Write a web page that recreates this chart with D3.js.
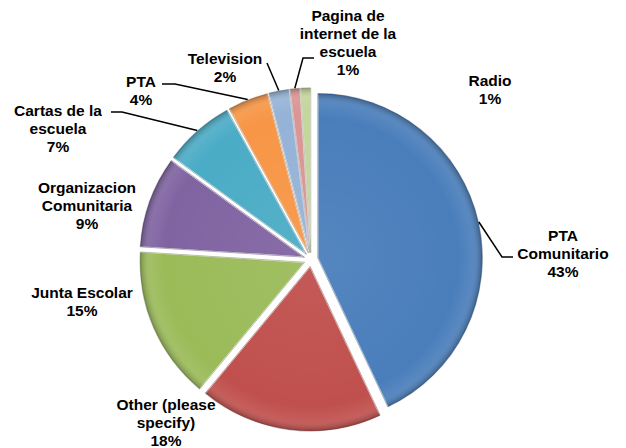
<!DOCTYPE html>
<html>
<head>
<meta charset="utf-8">
<script src="https://cdn.jsdelivr.net/npm/d3@7/dist/d3.min.js"></script>
<style>
  html, body { margin: 0; padding: 0; background: #fff; }
  svg { display: block; }
  text { font-family: "Liberation Sans", Arial, sans-serif; font-weight: bold; font-size: 15.5px; fill: #000; }
</style>
</head>
<body>
<svg id="chart" width="626" height="448"></svg>
<script>
// ---- data ----
const categories = ["PTA Comunitario", "Other (please specify)", "Junta Escolar", "Organizacion Comunitaria",
                    "Cartas de la escuela", "PTA", "Television", "Pagina de internet de la escuela", "Radio"];
const values = [43, 18, 15, 9, 7, 4, 2, 1, 1];
const labelLines = [
  ["PTA", "Comunitario", "43%"],
  ["Other (please", "specify)", "18%"],
  ["Junta Escolar", "15%"],
  ["Organizacion", "Comunitaria", "9%"],
  ["Cartas de la", "escuela", "7%"],
  ["PTA", "4%"],
  ["Television", "2%"],
  ["Pagina de", "internet de la", "escuela", "1%"],
  ["Radio", "1%"]
];

// ---- styles / layout ----
const colors = ["#4a7ebb", "#c0504d", "#9bbb59", "#8064a2", "#4bacc6", "#f79646", "#95b3d7", "#d99694", "#c3d69b"];
const cx = 311, cy = 259.5, R = 165, explode = 7, lineH = 18;
// label block centre (x) and first line centre (y); leader: elbow points from label to slice
const labelLayout = [
  { x: 563, y: 235, leader: [[513, 257], [502, 257]] },
  { x: 166, y: 404, leader: null },
  { x: 82,  y: 292, leader: null },
  { x: 87,  y: 187, leader: null },
  { x: 58,  y: 110, leader: [[111, 112], [122, 112]] },
  { x: 141, y: 81,  leader: [[162, 84], [175, 84]] },
  { x: 225, y: 58,  leader: [[267, 63]] },
  { x: 348, y: 15,  leader: [[314, 58], [303, 58]] },
  { x: 490, y: 80,  leader: null }
];

const svg = d3.select("#chart");
const defs = svg.append("defs");

const pie = d3.pie().sort(null).value(d => d).startAngle(0).endAngle(2 * Math.PI);
const arcs = pie(values);
const arcGen = d3.arc().innerRadius(0).outerRadius(R);

// shading gradient (bevel-like)
const rg = defs.append("radialGradient").attr("id", "shade")
  .attr("gradientUnits", "userSpaceOnUse").attr("cx", 0).attr("cy", 0).attr("r", R);
rg.append("stop").attr("offset", "0%").attr("stop-color", "#fff").attr("stop-opacity", 0.06);
rg.append("stop").attr("offset", "85%").attr("stop-color", "#fff").attr("stop-opacity", 0.0);
rg.append("stop").attr("offset", "94%").attr("stop-color", "#fff").attr("stop-opacity", 0.08);
rg.append("stop").attr("offset", "100%").attr("stop-color", "#000").attr("stop-opacity", 0.28);

function dirOf(a) { return [Math.sin(a), -Math.cos(a)]; }

const g = svg.append("g").attr("transform", `translate(${cx},${cy})`);
const slices = g.selectAll("g.slice").data(arcs).join("g").attr("class", "slice")
  .attr("transform", d => {
    const m = (d.startAngle + d.endAngle) / 2;
    const [dx, dy] = dirOf(m);
    return `translate(${dx * explode},${dy * explode})`;
  });
slices.append("path").attr("d", arcGen).attr("fill", (d, i) => colors[i])
  .attr("stroke", "#fff").attr("stroke-width", 1.2);
slices.append("path").attr("d", arcGen).attr("fill", "url(#shade)")
  .attr("stroke", "none");
slices.append("path").attr("d", d3.arc().innerRadius(0).outerRadius(R - 0.8))
  .attr("fill", "none").attr("stroke", (d, i) => d3.color(colors[i]).darker(1.2)).attr("stroke-width", 0.8)
  .attr("stroke-opacity", 0.6);

// leader lines
arcs.forEach((d, i) => {
  const L = labelLayout[i];
  if (!L.leader) return;
  const m = (d.startAngle + d.endAngle) / 2;
  const [dx, dy] = dirOf(m);
  const start = [cx + dx * (R + explode), cy + dy * (R + explode)];
  const pts = L.leader.concat([start]);
  svg.append("path").attr("d", d3.line()(pts)).attr("fill", "none")
    .attr("stroke", "#000").attr("stroke-width", 1.5);
});

// labels
arcs.forEach((d, i) => {
  const L = labelLayout[i];
  const t = svg.append("text").attr("text-anchor", "middle");
  labelLines[i].forEach((s, k) => {
    t.append("tspan").attr("x", L.x).attr("y", L.y + k * lineH + 5.5).text(s);
  });
});
</script>
</body>
</html>
